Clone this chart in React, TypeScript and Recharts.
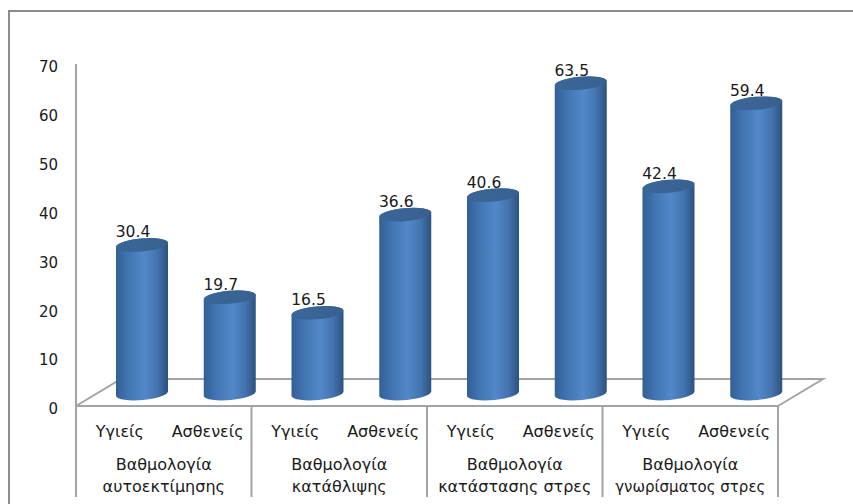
import React from 'react';
import { BarChart, Bar, XAxis, YAxis, LabelList } from 'recharts';

const categories = ['Υγιείς', 'Ασθενείς', 'Υγιείς', 'Ασθενείς', 'Υγιείς', 'Ασθενείς', 'Υγιείς', 'Ασθενείς'];
const scores = [30.4, 19.7, 16.5, 36.6, 40.6, 63.5, 42.4, 59.4];
const groupLines = [
  ['Βαθμολογία', 'αυτοεκτίμησης'],
  ['Βαθμολογία', 'κατάθλιψης'],
  ['Βαθμολογία', 'κατάστασης στρες'],
  ['Βαθμολογία', 'γνωρίσματος στρες'],
];
const yTicks = [0, 10, 20, 30, 40, 50, 60, 70];

const rows = categories.map((category, i) => ({ category, score: scores[i] }));

const WIDTH = 853;
const HEIGHT = 504;
const LEFT = 76;
const RIGHT = 778;
const TOP = 64;
const FLOOR_Y = 406;
const BAND = (RIGHT - LEFT) / categories.length;

// the floor recedes by this much, bars stand halfway back
const DEPTH_X = 45;
const DEPTH_Y = 27;
const BAR_DX = 22;
const BAR_DY = 12.5;

const LINE = '#a3a3a3';
const FONT = '"DejaVu Sans", Verdana, sans-serif';
const TEXT = '#1a1a1a';

const Floor = () => (
  <polyline
    points={`${LEFT},${FLOOR_Y} ${LEFT + DEPTH_X},${FLOOR_Y - DEPTH_Y} ${RIGHT + DEPTH_X},${FLOOR_Y - DEPTH_Y} ${RIGHT},${FLOOR_Y}`}
    fill="none"
    stroke={LINE}
    strokeWidth={2}
  />
);

const Cylinder = (props: any) => {
  const { x, y, width, height } = props;
  const rx = width / 2;
  const ry = 6.5;
  const tilt = 2.5;
  const left = x + BAR_DX;
  const right = left + width;
  const top = y - BAR_DY;
  const bottom = y + height - BAR_DY;
  const arc = `A${rx} ${ry} -5 0 0`;
  return (
    <g>
      <path
        d={`M${left} ${top + tilt} L${left} ${bottom + tilt} ${arc} ${right} ${bottom - tilt} L${right} ${top - tilt} ${arc} ${left} ${top + tilt}Z`}
        fill="url(#cylinderBody)"
      />
      <ellipse
        cx={left + rx}
        cy={top}
        rx={rx}
        ry={ry}
        transform={`rotate(-5 ${left + rx} ${top})`}
        fill="url(#cylinderTop)"
      />
    </g>
  );
};

const ValueLabel = (props: any) => {
  const { x, y, width, value } = props;
  return (
    <text x={x + width / 2 + 13} y={y - 20} textAnchor="middle" fontFamily={FONT} fontSize={15.5} fill={TEXT}>
      {value}
    </text>
  );
};

const CategoryTick = (props: any) => (
  <text x={props.x} y={437} textAnchor="middle" fontFamily={FONT} fontSize={16} fill={TEXT}>
    {props.payload.value}
  </text>
);

// one label per pair of bars, with the separators between the groups
const GroupTick = (props: any) => {
  const { x, index } = props;
  if (index % 2 === 1) return null;
  const start = x - BAND / 2;
  const lines = groupLines[index / 2];
  return (
    <g>
      <line x1={start} y1={FLOOR_Y} x2={start} y2={497} stroke={LINE} strokeWidth={2} />
      {index === categories.length - 2 && (
        <line x1={start + 2 * BAND} y1={FLOOR_Y} x2={start + 2 * BAND} y2={497} stroke={LINE} strokeWidth={2} />
      )}
      <text x={start + BAND} y={470} textAnchor="middle" fontFamily={FONT} fontSize={16} fill={TEXT}>
        {lines[0]}
      </text>
      <text x={start + BAND} y={492} textAnchor="middle" fontFamily={FONT} fontSize={index === 6 ? 15 : 16} fill={TEXT}>
        {lines[1]}
      </text>
    </g>
  );
};

export default function App() {
  return (
    <div style={{ position: 'absolute', left: 0, top: 0, width: WIDTH, height: HEIGHT, background: '#fff', overflow: 'hidden' }}>
      <div
        style={{
          position: 'absolute',
          left: 8,
          top: 10,
          width: WIDTH,
          height: HEIGHT,
          borderLeft: '2px solid #8c8c8c',
          borderTop: '2px solid #8c8c8c',
        }}
      />
      <BarChart
        width={WIDTH}
        height={HEIGHT}
        data={rows}
        barSize={52}
        margin={{ top: TOP, right: WIDTH - RIGHT, bottom: 0, left: 26 }}
        style={{ position: 'absolute', left: 0, top: 0 }}
      >
        <defs>
          <linearGradient id="cylinderBody" x1="0" y1="0" x2="1" y2="0">
            <stop offset="0%" stopColor="#325f95" />
            <stop offset="22%" stopColor="#4173b0" />
            <stop offset="55%" stopColor="#5288ca" />
            <stop offset="80%" stopColor="#4273ae" />
            <stop offset="100%" stopColor="#2c527f" />
          </linearGradient>
          <linearGradient id="cylinderTop" x1="0" y1="0" x2="1" y2="0">
            <stop offset="0%" stopColor="#3a6698" />
            <stop offset="100%" stopColor="#38618f" />
          </linearGradient>
        </defs>
        <Floor />
        <YAxis
          width={50}
          domain={[0, 70]}
          ticks={yTicks}
          interval={0}
          tickSize={0}
          tickMargin={18}
          axisLine={{ stroke: LINE, strokeWidth: 2 }}
          tick={{ fontFamily: FONT, fontSize: 15, fill: TEXT, dy: 3 }}
        />
        <XAxis
          dataKey="category"
          height={40}
          interval={0}
          tickLine={false}
          axisLine={{ stroke: LINE, strokeWidth: 2 }}
          tick={<CategoryTick />}
        />
        <XAxis
          xAxisId="group"
          dataKey="category"
          height={58}
          interval={0}
          tickLine={false}
          axisLine={false}
          tick={<GroupTick />}
        />
        <Bar dataKey="score" shape={<Cylinder />} isAnimationActive={false}>
          <LabelList dataKey="score" content={<ValueLabel />} />
        </Bar>
      </BarChart>
    </div>
  );
}
